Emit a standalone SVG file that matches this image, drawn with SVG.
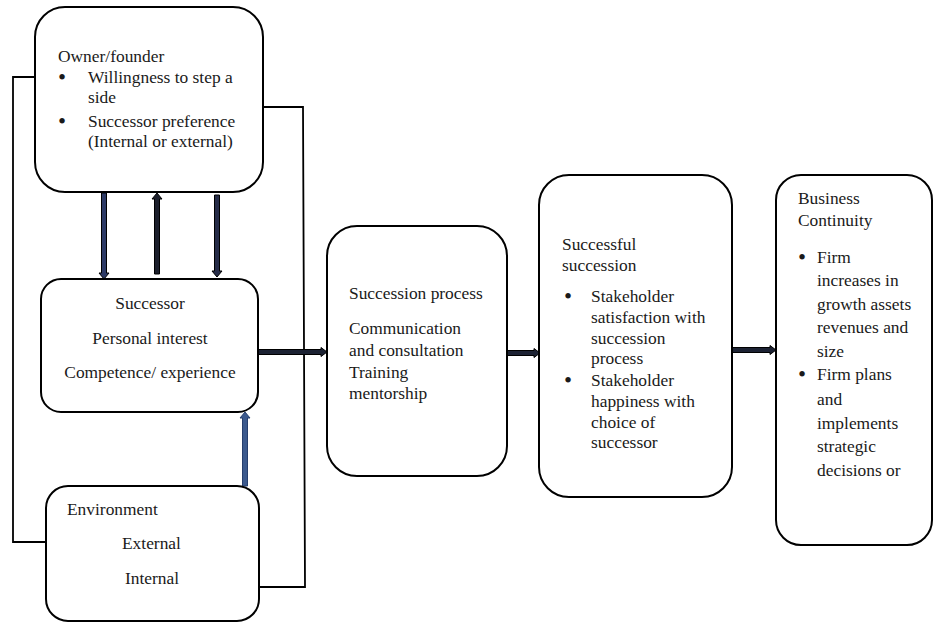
<svg xmlns="http://www.w3.org/2000/svg" width="934" height="623" viewBox="0 0 934 623">
<style>
.box{fill:#fff;stroke:#000;stroke-width:2}
.loop{fill:none;stroke:#000;stroke-width:1.8}
.ar{stroke:#000;stroke-width:1;stroke-linejoin:miter}
text{font-family:'Liberation Serif','Times New Roman',serif;font-size:17.4px;fill:#1a1a1a}
.c{text-anchor:middle}
.b{font-size:23px}
</style>
<rect width="934" height="623" fill="#fff"/>
<g id="connectors">
<polyline class="loop" points="35,77 13,77 13,542 46,542"/>
<polyline class="loop" points="263,107 303,107 305,587 259,587"/>
<polygon class="ar" fill="#2d3a66" points="101.5,193 106.5,193 106.5,273 109,273 104,279 99,273 101.5,273"/>
<polygon class="ar" fill="#1c1f2c" points="154.5,274 159.5,274 159.5,199 162,199 157,193 152,199 154.5,199"/>
<polygon class="ar" fill="#262c48" points="214.5,195 219.5,195 219.5,271 222,271 217,277 212,271 214.5,271"/>
<polygon fill="#3c5a8e" stroke="#263f6e" stroke-width="1" points="242.5,486 247.5,486 247.5,418 250,418 245,412 240,418 242.5,418"/>
<polygon class="ar" fill="#1c2233" points="258,349.5 321,349.5 321,347.5 327,352 321,356.5 321,354.5 258,354.5"/>
<polygon class="ar" fill="#1c2233" points="507,350.5 534,350.5 534,348.5 540,353 534,357.5 534,355.5 507,355.5"/>
<polygon class="ar" fill="#1c2233" points="732,347.5 770,347.5 770,345.5 776,350 770,354.5 770,352.5 732,352.5"/>
</g>
<g id="owner">
<rect class="box" x="35" y="7" width="228" height="185" rx="30"/>
<text x="58" y="62">Owner/founder</text>
<text class="b" x="58" y="85">•</text>
<text x="88" y="83">Willingness to step a</text>
<text x="88" y="103">side</text>
<text class="b" x="58" y="129">•</text>
<text x="88" y="127">Successor preference</text>
<text x="88" y="147">(Internal or external)</text>
</g>
<g id="successor">
<rect class="box" x="41" y="279" width="217" height="133" rx="20"/>
<text class="c" x="150" y="309">Successor</text>
<text class="c" x="150" y="344">Personal interest</text>
<text class="c" x="150" y="378">Competence/ experience</text>
</g>
<g id="environment">
<rect class="box" x="46" y="486" width="213" height="135" rx="22"/>
<text x="67" y="515">Environment</text>
<text x="122" y="549">External</text>
<text x="125" y="584">Internal</text>
</g>
<g id="process">
<rect class="box" x="327" y="226" width="180" height="250" rx="30"/>
<text x="349" y="299">Succession process</text>
<text x="349" y="334">Communication</text>
<text x="349" y="356">and consultation</text>
<text x="349" y="378">Training</text>
<text x="349" y="399">mentorship</text>
</g>
<g id="successful">
<rect class="box" x="539" y="175" width="193" height="322" rx="30"/>
<text x="562" y="250">Successful</text>
<text x="562" y="271">succession</text>
<text class="b" x="564" y="304">•</text>
<text x="591" y="302">Stakeholder</text>
<text x="591" y="323">satisfaction with</text>
<text x="591" y="344">succession</text>
<text x="591" y="364">process</text>
<text class="b" x="564" y="388">•</text>
<text x="591" y="386">Stakeholder</text>
<text x="591" y="407">happiness with</text>
<text x="591" y="428">choice of</text>
<text x="591" y="448">successor</text>
</g>
<g id="business">
<rect class="box" x="776" y="175" width="156" height="370" rx="25"/>
<text x="798" y="204">Business</text>
<text x="798" y="226">Continuity</text>
<text class="b" x="798" y="265">•</text>
<text x="817" y="263">Firm</text>
<text x="817" y="286">increases in</text>
<text x="817" y="310">growth assets</text>
<text x="817" y="333">revenues and</text>
<text x="817" y="357">size</text>
<text class="b" x="798" y="382">•</text>
<text x="817" y="380">Firm plans</text>
<text x="817" y="405">and</text>
<text x="817" y="429">implements</text>
<text x="817" y="452">strategic</text>
<text x="817" y="476">decisions or</text>
</g>
</svg>
